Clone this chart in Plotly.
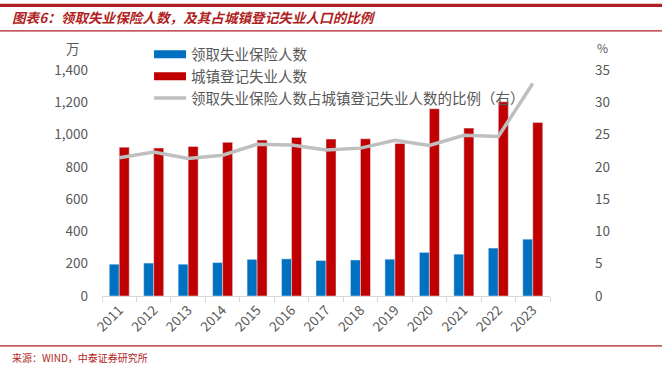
import plotly.graph_objects as go

years = ["2011", "2012", "2013", "2014", "2015", "2016", "2017", "2018", "2019", "2020", "2021", "2022", "2023"]
insured = [197, 204, 197, 207, 227, 230, 220, 223, 228, 270, 259, 297, 352]
registered = [922, 917, 926, 952, 966, 982, 972, 974, 945, 1160, 1040, 1203, 1075]
ratio = [21.4, 22.3, 21.3, 21.8, 23.5, 23.4, 22.6, 22.9, 24.1, 23.3, 24.9, 24.7, 32.9]

names = ["领取失业保险人数", "城镇登记失业人数", "领取失业保险人数占城镇登记失业人数的比例（右）"]
colors = ["#0070C0", "#C00000", "#BFBFBF"]

FONT = "Noto Sans CJK SC, Noto Sans, sans-serif"
GRAY = "#595959"
RED = "#B01F24"

fig = go.Figure()
fig.add_trace(go.Bar(x=years, y=insured, name=names[0], marker_color=colors[0], showlegend=False))
fig.add_trace(go.Bar(x=years, y=registered, name=names[1], marker_color=colors[1], showlegend=False))
fig.add_trace(go.Scatter(x=years, y=ratio, name=names[2], mode="lines",
                         line=dict(color=colors[2], width=3.5), yaxis="y2", showlegend=False))
fig.add_trace(go.Scatter(x=[None], y=[None], name=names[0], mode="lines",
                         line=dict(color=colors[0], width=8)))
fig.add_trace(go.Scatter(x=[None], y=[None], name=names[1], mode="lines",
                         line=dict(color=colors[1], width=8)))
fig.add_trace(go.Scatter(x=[None], y=[None], name=names[2], mode="lines",
                         line=dict(color=colors[2], width=3.5)))

fig.update_layout(
    width=662, height=366,
    paper_bgcolor="white", plot_bgcolor="white",
    margin=dict(l=102, r=112, t=70, b=70, autoexpand=False),
    font=dict(family=FONT, color=GRAY, size=13),
    barmode="group", bargap=0.42, bargroupgap=0,
    showlegend=True,
    legend=dict(x=0.105, y=1.14, xanchor="left", yanchor="top", bgcolor="rgba(0,0,0,0)",
                font=dict(size=14.5, color=GRAY), tracegroupgap=0, itemwidth=32),
    xaxis=dict(type="category", showgrid=False, showline=True, linecolor="#D9D9D9", linewidth=1,
               ticks="outside", tickson="boundaries", ticklen=5, tickcolor="#D9D9D9",
               tickangle=-45, tickfont=dict(size=13.5, color=GRAY), automargin=False),
    yaxis=dict(range=[0, 1400], dtick=200, showgrid=False, zeroline=False, showline=False,
               tickformat=",", tickfont=dict(size=13.5, color=GRAY), ticks="", ticklabelstandoff=13,
               automargin=False),
    yaxis2=dict(range=[0, 35], dtick=5, overlaying="y", side="right", showgrid=False, zeroline=False,
                showline=False, tickfont=dict(size=13.5, color=GRAY), ticklabelstandoff=44,
                automargin=False),
)

# header rule: several stacked thin lines (diagnostic-friendly, same red)
for yy in [1.282, 1.286, 1.290]:
    fig.add_shape(type="line", xref="paper", yref="paper", x0=-0.2277, x1=1.25, y0=yy, y1=yy,
                  line=dict(color=RED, width=1.5), layer="below")
fig.add_shape(type="line", xref="paper", yref="paper", x0=-0.2277, x1=1.25, y0=1.173, y1=1.173,
              line=dict(color=RED, width=1.2))
fig.add_shape(type="line", xref="paper", yref="paper", x0=-0.2277, x1=1.25, y0=-0.221, y1=-0.221,
              line=dict(color=RED, width=1.2))

fig.add_annotation(text="<b><i>图表6：领取失业保险人数，及其占城镇登记失业人口的比例</i></b>",
                   xref="paper", yref="paper", x=-0.205, y=1.235, xanchor="left", yanchor="middle",
                   showarrow=False, font=dict(size=13.6, color=RED, family=FONT))
fig.add_annotation(text="来源：WIND，中泰证券研究所", xref="paper", yref="paper", x=-0.205, y=-0.27,
                   xanchor="left", yanchor="middle", showarrow=False,
                   font=dict(size=10, color=RED, family=FONT))
fig.add_annotation(text="万", xref="paper", yref="paper", x=-0.045, y=1.098, xanchor="right",
                   yanchor="middle", showarrow=False, font=dict(size=13.5, color=GRAY))
fig.add_annotation(text="%", xref="paper", yref="paper", x=1.10, y=1.098, xanchor="left",
                   yanchor="middle", showarrow=False, font=dict(size=12, color=GRAY))

fig.write_html("out.html", config={"displayModeBar": False},
               post_script="document.body.style.margin='0';")
